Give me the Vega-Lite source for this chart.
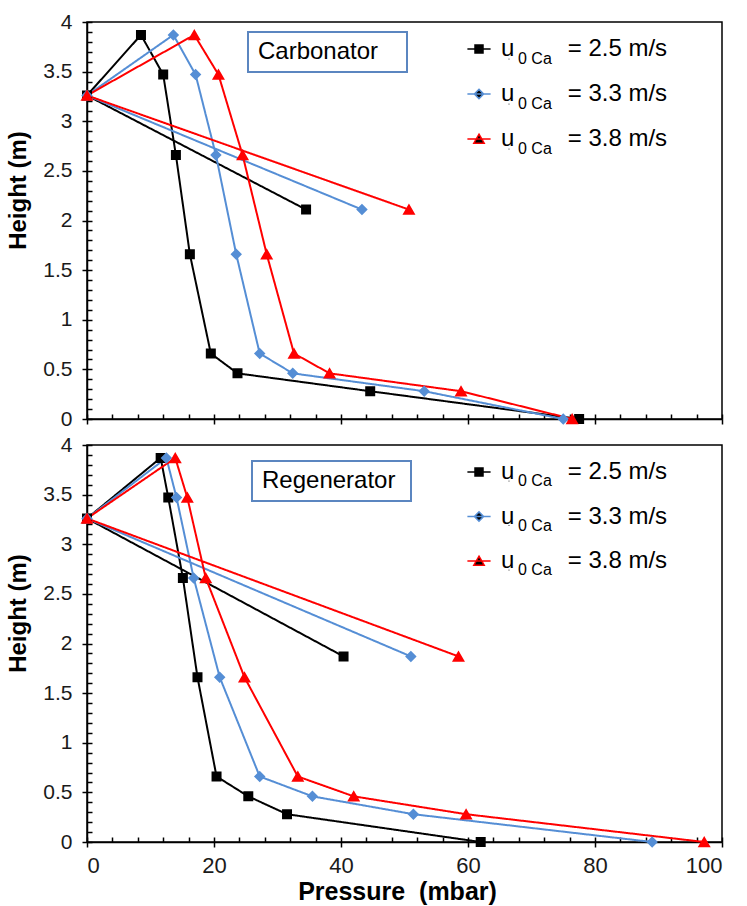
{
  "$schema": "https://vega.github.io/schema/vega-lite/v6.json",
  "background": "white",
  "padding": {"left": 6, "top": 10, "right": 2, "bottom": 2},
  "config": {
    "font": "Liberation Sans",
    "view": {"stroke": "#000000", "strokeWidth": 1.5},
    "axis": {"grid": false, "domainColor": "#000000", "domainWidth": 1.5, "tickColor": "#000000", "tickWidth": 1.5, "labelColor": "#1a1a1a", "titleColor": "#000000", "labelFont": "Liberation Sans", "titleFont": "Liberation Sans"},
    "legend": {"labelFont": "Liberation Sans", "labelColor": "#000000", "labelLimit": 400}
  },
  "datasets": {
    "pressure": [
      {"reactor": "Carbonator", "series": "u0 Ca = 2.5 m/s", "u": 2.5, "ord": 1, "pressure": 34.5, "height": 2.11},
      {"reactor": "Carbonator", "series": "u0 Ca = 2.5 m/s", "u": 2.5, "ord": 2, "pressure": 0, "height": 3.26},
      {"reactor": "Carbonator", "series": "u0 Ca = 2.5 m/s", "u": 2.5, "ord": 3, "pressure": 8.5, "height": 3.87},
      {"reactor": "Carbonator", "series": "u0 Ca = 2.5 m/s", "u": 2.5, "ord": 4, "pressure": 12.0, "height": 3.47},
      {"reactor": "Carbonator", "series": "u0 Ca = 2.5 m/s", "u": 2.5, "ord": 5, "pressure": 14.0, "height": 2.66},
      {"reactor": "Carbonator", "series": "u0 Ca = 2.5 m/s", "u": 2.5, "ord": 6, "pressure": 16.2, "height": 1.66},
      {"reactor": "Carbonator", "series": "u0 Ca = 2.5 m/s", "u": 2.5, "ord": 7, "pressure": 19.5, "height": 0.66},
      {"reactor": "Carbonator", "series": "u0 Ca = 2.5 m/s", "u": 2.5, "ord": 8, "pressure": 23.7, "height": 0.46},
      {"reactor": "Carbonator", "series": "u0 Ca = 2.5 m/s", "u": 2.5, "ord": 9, "pressure": 44.6, "height": 0.28},
      {"reactor": "Carbonator", "series": "u0 Ca = 2.5 m/s", "u": 2.5, "ord": 10, "pressure": 77.5, "height": 0},
      {"reactor": "Carbonator", "series": "u0 Ca = 3.3 m/s", "u": 3.3, "ord": 1, "pressure": 43.3, "height": 2.11},
      {"reactor": "Carbonator", "series": "u0 Ca = 3.3 m/s", "u": 3.3, "ord": 2, "pressure": 0, "height": 3.26},
      {"reactor": "Carbonator", "series": "u0 Ca = 3.3 m/s", "u": 3.3, "ord": 3, "pressure": 13.6, "height": 3.87},
      {"reactor": "Carbonator", "series": "u0 Ca = 3.3 m/s", "u": 3.3, "ord": 4, "pressure": 17.1, "height": 3.47},
      {"reactor": "Carbonator", "series": "u0 Ca = 3.3 m/s", "u": 3.3, "ord": 5, "pressure": 20.3, "height": 2.66},
      {"reactor": "Carbonator", "series": "u0 Ca = 3.3 m/s", "u": 3.3, "ord": 6, "pressure": 23.5, "height": 1.66},
      {"reactor": "Carbonator", "series": "u0 Ca = 3.3 m/s", "u": 3.3, "ord": 7, "pressure": 27.2, "height": 0.66},
      {"reactor": "Carbonator", "series": "u0 Ca = 3.3 m/s", "u": 3.3, "ord": 8, "pressure": 32.4, "height": 0.46},
      {"reactor": "Carbonator", "series": "u0 Ca = 3.3 m/s", "u": 3.3, "ord": 9, "pressure": 53.1, "height": 0.28},
      {"reactor": "Carbonator", "series": "u0 Ca = 3.3 m/s", "u": 3.3, "ord": 10, "pressure": 75.0, "height": 0},
      {"reactor": "Carbonator", "series": "u0 Ca = 3.8 m/s", "u": 3.8, "ord": 1, "pressure": 50.7, "height": 2.11},
      {"reactor": "Carbonator", "series": "u0 Ca = 3.8 m/s", "u": 3.8, "ord": 2, "pressure": 0, "height": 3.26},
      {"reactor": "Carbonator", "series": "u0 Ca = 3.8 m/s", "u": 3.8, "ord": 3, "pressure": 16.9, "height": 3.87},
      {"reactor": "Carbonator", "series": "u0 Ca = 3.8 m/s", "u": 3.8, "ord": 4, "pressure": 20.7, "height": 3.47},
      {"reactor": "Carbonator", "series": "u0 Ca = 3.8 m/s", "u": 3.8, "ord": 5, "pressure": 24.5, "height": 2.66},
      {"reactor": "Carbonator", "series": "u0 Ca = 3.8 m/s", "u": 3.8, "ord": 6, "pressure": 28.3, "height": 1.66},
      {"reactor": "Carbonator", "series": "u0 Ca = 3.8 m/s", "u": 3.8, "ord": 7, "pressure": 32.6, "height": 0.66},
      {"reactor": "Carbonator", "series": "u0 Ca = 3.8 m/s", "u": 3.8, "ord": 8, "pressure": 38.2, "height": 0.46},
      {"reactor": "Carbonator", "series": "u0 Ca = 3.8 m/s", "u": 3.8, "ord": 9, "pressure": 58.9, "height": 0.28},
      {"reactor": "Carbonator", "series": "u0 Ca = 3.8 m/s", "u": 3.8, "ord": 10, "pressure": 76.4, "height": 0},
      {"reactor": "Regenerator", "series": "u0 Ca = 2.5 m/s", "u": 2.5, "ord": 1, "pressure": 40.4, "height": 1.87},
      {"reactor": "Regenerator", "series": "u0 Ca = 2.5 m/s", "u": 2.5, "ord": 2, "pressure": 0, "height": 3.26},
      {"reactor": "Regenerator", "series": "u0 Ca = 2.5 m/s", "u": 2.5, "ord": 3, "pressure": 11.6, "height": 3.87},
      {"reactor": "Regenerator", "series": "u0 Ca = 2.5 m/s", "u": 2.5, "ord": 4, "pressure": 12.8, "height": 3.47},
      {"reactor": "Regenerator", "series": "u0 Ca = 2.5 m/s", "u": 2.5, "ord": 5, "pressure": 15.1, "height": 2.66},
      {"reactor": "Regenerator", "series": "u0 Ca = 2.5 m/s", "u": 2.5, "ord": 6, "pressure": 17.4, "height": 1.66},
      {"reactor": "Regenerator", "series": "u0 Ca = 2.5 m/s", "u": 2.5, "ord": 7, "pressure": 20.4, "height": 0.66},
      {"reactor": "Regenerator", "series": "u0 Ca = 2.5 m/s", "u": 2.5, "ord": 8, "pressure": 25.4, "height": 0.46},
      {"reactor": "Regenerator", "series": "u0 Ca = 2.5 m/s", "u": 2.5, "ord": 9, "pressure": 31.5, "height": 0.28},
      {"reactor": "Regenerator", "series": "u0 Ca = 2.5 m/s", "u": 2.5, "ord": 10, "pressure": 62.0, "height": 0},
      {"reactor": "Regenerator", "series": "u0 Ca = 3.3 m/s", "u": 3.3, "ord": 1, "pressure": 51.0, "height": 1.87},
      {"reactor": "Regenerator", "series": "u0 Ca = 3.3 m/s", "u": 3.3, "ord": 2, "pressure": 0, "height": 3.26},
      {"reactor": "Regenerator", "series": "u0 Ca = 3.3 m/s", "u": 3.3, "ord": 3, "pressure": 12.5, "height": 3.87},
      {"reactor": "Regenerator", "series": "u0 Ca = 3.3 m/s", "u": 3.3, "ord": 4, "pressure": 14.1, "height": 3.47},
      {"reactor": "Regenerator", "series": "u0 Ca = 3.3 m/s", "u": 3.3, "ord": 5, "pressure": 16.8, "height": 2.66},
      {"reactor": "Regenerator", "series": "u0 Ca = 3.3 m/s", "u": 3.3, "ord": 6, "pressure": 20.9, "height": 1.66},
      {"reactor": "Regenerator", "series": "u0 Ca = 3.3 m/s", "u": 3.3, "ord": 7, "pressure": 27.2, "height": 0.66},
      {"reactor": "Regenerator", "series": "u0 Ca = 3.3 m/s", "u": 3.3, "ord": 8, "pressure": 35.5, "height": 0.46},
      {"reactor": "Regenerator", "series": "u0 Ca = 3.3 m/s", "u": 3.3, "ord": 9, "pressure": 51.4, "height": 0.28},
      {"reactor": "Regenerator", "series": "u0 Ca = 3.3 m/s", "u": 3.3, "ord": 10, "pressure": 89.0, "height": 0},
      {"reactor": "Regenerator", "series": "u0 Ca = 3.8 m/s", "u": 3.8, "ord": 1, "pressure": 58.5, "height": 1.87},
      {"reactor": "Regenerator", "series": "u0 Ca = 3.8 m/s", "u": 3.8, "ord": 2, "pressure": 0, "height": 3.26},
      {"reactor": "Regenerator", "series": "u0 Ca = 3.8 m/s", "u": 3.8, "ord": 3, "pressure": 13.9, "height": 3.87},
      {"reactor": "Regenerator", "series": "u0 Ca = 3.8 m/s", "u": 3.8, "ord": 4, "pressure": 15.8, "height": 3.47},
      {"reactor": "Regenerator", "series": "u0 Ca = 3.8 m/s", "u": 3.8, "ord": 5, "pressure": 18.7, "height": 2.66},
      {"reactor": "Regenerator", "series": "u0 Ca = 3.8 m/s", "u": 3.8, "ord": 6, "pressure": 24.8, "height": 1.66},
      {"reactor": "Regenerator", "series": "u0 Ca = 3.8 m/s", "u": 3.8, "ord": 7, "pressure": 33.2, "height": 0.66},
      {"reactor": "Regenerator", "series": "u0 Ca = 3.8 m/s", "u": 3.8, "ord": 8, "pressure": 42.0, "height": 0.46},
      {"reactor": "Regenerator", "series": "u0 Ca = 3.8 m/s", "u": 3.8, "ord": 9, "pressure": 59.7, "height": 0.28},
      {"reactor": "Regenerator", "series": "u0 Ca = 3.8 m/s", "u": 3.8, "ord": 10, "pressure": 97.2, "height": 0}
    ]
  },
  "spacing": 26,
  "bounds": "flush",
  "resolve": {"scale": {"color": "independent", "shape": "independent", "stroke": "independent", "opacity": "independent", "strokeDash": "independent"}},
  "vconcat": [
    {
      "width": 635,
      "height": 397,
      "data": {"name": "pressure"},
      "transform": [{"filter": "datum.reactor === 'Carbonator'"}],
      "resolve": {"axis": {"x": "independent", "y": "independent"}},
      "layer": [
        {
          "mark": {"type": "line", "strokeWidth": 2},
          "encoding": {
            "x": {"field": "pressure", "type": "quantitative", "scale": {"domain": [0, 100], "nice": false, "zero": false},
                  "axis": {"orient": "bottom", "values": [0, 20, 40, 60, 80, 100], "labels": false, "title": null, "tickSize": 5}},
            "y": {"field": "height", "type": "quantitative", "scale": {"domain": [0, 4], "nice": false, "zero": false},
                  "axis": {"orient": "left", "values": [0, 0.5, 1, 1.5, 2, 2.5, 3, 3.5, 4], "format": "~g", "labelFontSize": 21, "tickSize": 5, "labelPadding": 10, "title": "Height (m)", "titleFontSize": 24, "titleFontWeight": "bold", "titlePadding": 12, "titleY": 168}},
            "order": {"field": "ord", "type": "quantitative"},
            "color": {"field": "u", "type": "nominal", "scale": {"range": ["#000000", "#558ED5", "#FF0000"]}, "legend": null},
            "strokeDash": {"field": "reactor", "type": "nominal", "scale": {"range": [[1, 0]]},
                  "legend": {"orient": "none", "legendX": 161, "legendY": 10, "title": null, "labelExpr": "datum.label + '\u00a0\u00a0\u00a0\u200b'", "labelFontSize": 24, "labelOffset": -22, "symbolType": "circle", "symbolSize": 1, "padding": 8, "strokeColor": "#5B86C0",
                             "encode": {"symbols": {"update": {"opacity": {"value": 0}}}, "legend": {"update": {"strokeWidth": {"value": 2}}}}}}
          }
        },
        {
          "mark": {"type": "point", "filled": true, "opacity": 1, "size": 100, "strokeWidth": 0},
          "encoding": {
            "x": {"field": "pressure", "type": "quantitative",
                  "axis": {"orient": "bottom", "values": [0, 4, 8, 12, 16, 20, 24, 28, 32, 36, 40, 44, 48, 52, 56, 60, 64, 68, 72, 76, 80, 84, 88, 92, 96, 100], "labels": false, "title": null, "tickSize": -5, "domain": false}},
            "y": {"field": "height", "type": "quantitative",
                  "axis": {"orient": "left", "values": [0, 0.1, 0.2, 0.3, 0.4, 0.5, 0.6, 0.7, 0.8, 0.9, 1, 1.1, 1.2, 1.3, 1.4, 1.5, 1.6, 1.7, 1.8, 1.9, 2, 2.1, 2.2, 2.3, 2.4, 2.5, 2.6, 2.7, 2.8, 2.9, 3, 3.1, 3.2, 3.3, 3.4, 3.5, 3.6, 3.7, 3.8, 3.9, 4], "labels": false, "title": null, "tickSize": -5, "domain": false}},
            "color": {"field": "u", "type": "nominal", "scale": {"range": ["#000000", "#558ED5", "#FF0000"]},
                  "legend": {"orient": "none", "legendX": 380, "legendY": 15, "title": null, "labelExpr": "'u\u00a0\u00a0\u00a0\u00a0\u00a0\u00a0\u00a0\u00a0= ' + datum.label + ' m/s'", "labelFontSize": 24, "labelOffset": 10, "symbolSize": 64, "rowPadding": 21, "padding": 0,
                             "encode": {"symbols": {"update": {"strokeWidth": {"value": 2}}}}}},
            "stroke": {"field": "u", "type": "nominal", "scale": {"range": ["#000000", "#558ED5", "#FF0000"]},
                  "legend": {"orient": "none", "legendX": 380, "legendY": 15, "title": null, "labelExpr": "'u\u00a0\u00a0\u00a0\u00a0\u00a0\u00a0\u00a0\u00a0= ' + datum.label + ' m/s'", "labelFontSize": 24, "labelOffset": 10, "symbolSize": 64, "rowPadding": 21, "padding": 0,
                             "encode": {"symbols": {"update": {"strokeWidth": {"value": 2}}}}}},
            "shape": {"field": "u", "type": "nominal", "scale": {"range": ["M-1,-1H1V1H-1Z M-2.9,0H2.9", "M0,-1.15L1.15,0L0,1.15L-1.15,0Z M-2.9,0H2.9", "M0,-1.2L1.3,1.05H-1.3Z M-2.9,0H2.9"]},
                  "legend": {"orient": "none", "legendX": 380, "legendY": 15, "title": null, "labelExpr": "'u\u00a0\u00a0\u00a0\u00a0\u00a0\u00a0\u00a0\u00a0= ' + datum.label + ' m/s'", "labelFontSize": 24, "labelOffset": 10, "symbolSize": 64, "rowPadding": 21, "padding": 0,
                             "encode": {"symbols": {"update": {"strokeWidth": {"value": 2}}}}}},
            "opacity": {"field": "series", "type": "nominal", "scale": {"range": [1, 1]},
                  "legend": {"orient": "none", "legendX": 414, "legendY": 22, "title": null, "labelExpr": "'0 Ca'", "labelFontSize": 16, "labelOffset": 1, "symbolType": "circle", "symbolSize": 1, "clipHeight": 30, "rowPadding": 15, "padding": 0,
                             "encode": {"symbols": {"update": {"opacity": {"value": 0}}}}}}
          }
        }
      ]
    },
    {
      "width": 635,
      "height": 397,
      "data": {"name": "pressure"},
      "transform": [{"filter": "datum.reactor === 'Regenerator'"}],
      "resolve": {"axis": {"x": "independent", "y": "independent"}},
      "layer": [
        {
          "mark": {"type": "line", "strokeWidth": 2},
          "encoding": {
            "x": {"field": "pressure", "type": "quantitative", "scale": {"domain": [0, 100], "nice": false, "zero": false},
                  "axis": {"orient": "bottom", "values": [0, 20, 40, 60, 80, 100], "labelFontSize": 22, "labelPadding": 8, "tickSize": 5, "title": "Pressure\u00a0 (mbar)", "titleFontSize": 25, "titleFontWeight": "bold", "titlePadding": 3, "titleX": 310}},
            "y": {"field": "height", "type": "quantitative", "scale": {"domain": [0, 4], "nice": false, "zero": false},
                  "axis": {"orient": "left", "values": [0, 0.5, 1, 1.5, 2, 2.5, 3, 3.5, 4], "format": "~g", "labelFontSize": 21, "tickSize": 5, "labelPadding": 10, "title": "Height (m)", "titleFontSize": 24, "titleFontWeight": "bold", "titlePadding": 12, "titleY": 168}},
            "order": {"field": "ord", "type": "quantitative"},
            "color": {"field": "u", "type": "nominal", "scale": {"range": ["#000000", "#558ED5", "#FF0000"]}, "legend": null},
            "strokeDash": {"field": "reactor", "type": "nominal", "scale": {"range": [[1, 0]]},
                  "legend": {"orient": "none", "legendX": 165, "legendY": 16, "title": null, "labelExpr": "datum.label + '\u00a0\u200b'", "labelFontSize": 24, "labelOffset": -22, "symbolType": "circle", "symbolSize": 1, "padding": 8, "strokeColor": "#5B86C0",
                             "encode": {"symbols": {"update": {"opacity": {"value": 0}}}, "legend": {"update": {"strokeWidth": {"value": 2}}}}}}
          }
        },
        {
          "mark": {"type": "point", "filled": true, "opacity": 1, "size": 100, "strokeWidth": 0},
          "encoding": {
            "x": {"field": "pressure", "type": "quantitative",
                  "axis": {"orient": "bottom", "values": [0, 4, 8, 12, 16, 20, 24, 28, 32, 36, 40, 44, 48, 52, 56, 60, 64, 68, 72, 76, 80, 84, 88, 92, 96, 100], "labels": false, "title": null, "tickSize": -5, "domain": false}},
            "y": {"field": "height", "type": "quantitative",
                  "axis": {"orient": "left", "values": [0, 0.1, 0.2, 0.3, 0.4, 0.5, 0.6, 0.7, 0.8, 0.9, 1, 1.1, 1.2, 1.3, 1.4, 1.5, 1.6, 1.7, 1.8, 1.9, 2, 2.1, 2.2, 2.3, 2.4, 2.5, 2.6, 2.7, 2.8, 2.9, 3, 3.1, 3.2, 3.3, 3.4, 3.5, 3.6, 3.7, 3.8, 3.9, 4], "labels": false, "title": null, "tickSize": -5, "domain": false}},
            "color": {"field": "u", "type": "nominal", "scale": {"range": ["#000000", "#558ED5", "#FF0000"]},
                  "legend": {"orient": "none", "legendX": 380, "legendY": 15, "title": null, "labelExpr": "'u\u00a0\u00a0\u00a0\u00a0\u00a0\u00a0\u00a0\u00a0= ' + datum.label + ' m/s'", "labelFontSize": 24, "labelOffset": 10, "symbolSize": 64, "rowPadding": 20.5, "padding": 0,
                             "encode": {"symbols": {"update": {"strokeWidth": {"value": 2}}}}}},
            "stroke": {"field": "u", "type": "nominal", "scale": {"range": ["#000000", "#558ED5", "#FF0000"]},
                  "legend": {"orient": "none", "legendX": 380, "legendY": 15, "title": null, "labelExpr": "'u\u00a0\u00a0\u00a0\u00a0\u00a0\u00a0\u00a0\u00a0= ' + datum.label + ' m/s'", "labelFontSize": 24, "labelOffset": 10, "symbolSize": 64, "rowPadding": 20.5, "padding": 0,
                             "encode": {"symbols": {"update": {"strokeWidth": {"value": 2}}}}}},
            "shape": {"field": "u", "type": "nominal", "scale": {"range": ["M-1,-1H1V1H-1Z M-2.9,0H2.9", "M0,-1.15L1.15,0L0,1.15L-1.15,0Z M-2.9,0H2.9", "M0,-1.2L1.3,1.05H-1.3Z M-2.9,0H2.9"]},
                  "legend": {"orient": "none", "legendX": 380, "legendY": 15, "title": null, "labelExpr": "'u\u00a0\u00a0\u00a0\u00a0\u00a0\u00a0\u00a0\u00a0= ' + datum.label + ' m/s'", "labelFontSize": 24, "labelOffset": 10, "symbolSize": 64, "rowPadding": 20.5, "padding": 0,
                             "encode": {"symbols": {"update": {"strokeWidth": {"value": 2}}}}}},
            "opacity": {"field": "series", "type": "nominal", "scale": {"range": [1, 1]},
                  "legend": {"orient": "none", "legendX": 414, "legendY": 21, "title": null, "labelExpr": "'0 Ca'", "labelFontSize": 16, "labelOffset": 1, "symbolType": "circle", "symbolSize": 1, "clipHeight": 30, "rowPadding": 14.5, "padding": 0,
                             "encode": {"symbols": {"update": {"opacity": {"value": 0}}}}}}
          }
        }
      ]
    }
  ]
}
